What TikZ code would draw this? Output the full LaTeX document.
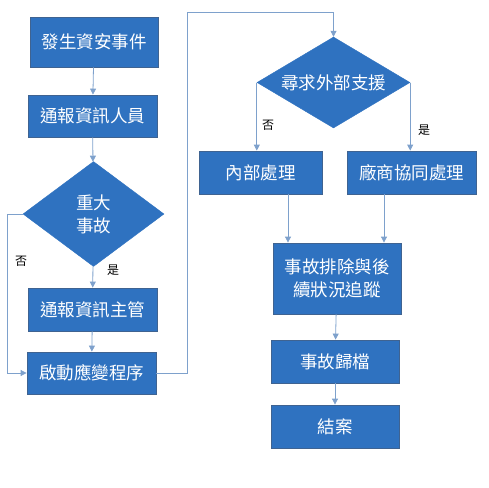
\documentclass[tikz,border=0pt]{standalone}
\usepackage{fontspec}
\newfontfamily\cjk{Noto Sans CJK TC}
\usetikzlibrary{shapes.geometric,arrows.meta}
\definecolor{boxblue}{HTML}{2F72C0}
\definecolor{boxedge}{HTML}{3F6391}
\definecolor{linkblue}{HTML}{7EA1CC}
\tikzset{
  stepbox/.style={rectangle, fill=boxblue, draw=boxedge, line width=0.8pt, text=white,
    font=\cjk\fontsize{17.5}{23}\selectfont, inner sep=0pt, align=center},
  choice/.style={diamond, fill=boxblue, draw=boxblue, text=white,
    font=\cjk\fontsize{17.5}{23}\selectfont, inner sep=0pt, align=center},
  link/.style={draw=linkblue, line width=0.8pt, -{Triangle[width=6pt,length=6pt]}},
  answer/.style={font=\cjk\fontsize{12}{14}\selectfont, text=black},
}
\begin{document}
\begin{tikzpicture}[x=1pt,y=-1pt]
\useasboundingbox (0,0) rectangle (489,487);
% left column
\node[stepbox, minimum width=128pt, minimum height=50pt] (start) at (94,42) {發生資安事件};
\node[stepbox, minimum width=129pt, minimum height=42pt] (notify) at (92.5,116) {通報資訊人員};
\node[choice, aspect=1.34, minimum width=141pt, minimum height=105pt] (major) at (93.5,214) {重大\\事故};
\node[stepbox, minimum width=129pt, minimum height=43pt] (boss) at (92.5,309.5) {通報資訊主管};
\node[stepbox, minimum width=129pt, minimum height=42pt] (respond) at (91.5,373) {啟動應變程序};
% right column
\node[choice, aspect=1.68, minimum width=153pt, minimum height=91pt] (support) at (333.5,82.5) {尋求外部支援};
\node[stepbox, minimum width=123pt, minimum height=43pt] (inhouse) at (260.5,172.5) {內部處理};
\node[stepbox, minimum width=129pt, minimum height=43pt] (vendor) at (411.5,172.5) {廠商協同處理};
\node[stepbox, minimum width=128pt, minimum height=71pt] (fix) at (337,278.5) {事故排除與後\\續狀況追蹤};
\node[stepbox, minimum width=128pt, minimum height=43pt] (archive) at (335,361.5) {事故歸檔};
\node[stepbox, minimum width=128pt, minimum height=43pt] (close) at (335,426.5) {結案};
% labels
\node[answer] (no1) at (21,261) {否};
\node[answer] (yes1) at (113,270) {是};
\node[answer] (no2) at (268,125) {否};
\node[answer] (yes2) at (424,130) {是};
% connectors
\draw[link] (start) -- (notify);
\draw[link] (notify) -- (major);
\draw[link] (major) -- (boss);
\draw[link] (boss) -- (respond);
\draw[link] (major.west) -- ++(-15,0) |- (respond.west);
\draw[link] (respond.east) -- ++(31,0) |- ([yshift=24pt]support.north) -- (support.north);
\draw[link] (support.west) -- (support.west |- inhouse.north);
\draw[link] (support.east) -- (support.east |- vendor.north);
\draw[link] ([xshift=-49pt]fix.north |- inhouse.south) -- ([xshift=-49pt]fix.north);
\draw[link] ([xshift=47pt]fix.north |- vendor.south) -- ([xshift=47pt]fix.north);
\draw[link] (fix) -- (archive);
\draw[link] (archive) -- (close);
\end{tikzpicture}
\end{document}
